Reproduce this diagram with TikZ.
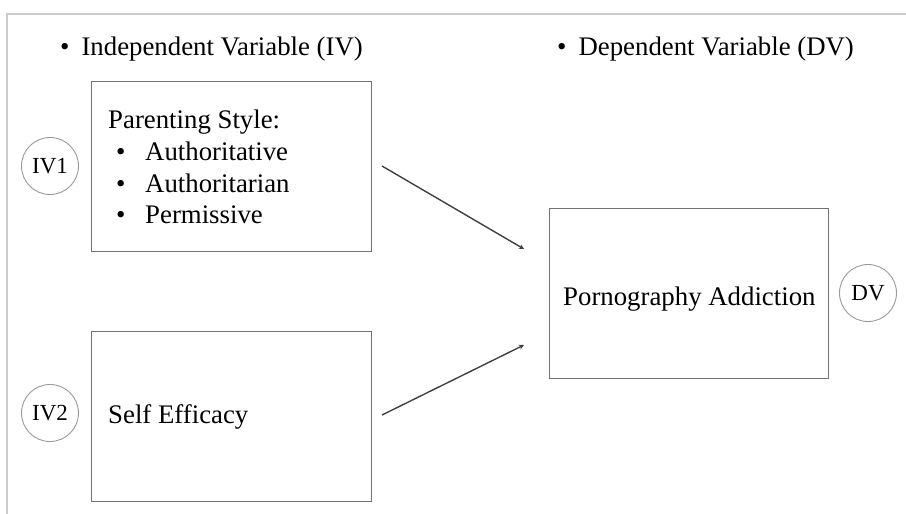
\documentclass[tikz,border=0pt]{standalone}
\usepackage{fontspec}
\setmainfont{Liberation Serif}
\usetikzlibrary{arrows.meta}
\begin{document}
\begin{tikzpicture}[x=1pt,y=-1pt,
                    vbox/.style = {draw=black!55,
                                   line width=1.1pt,
                                   anchor=north west,
                                   minimum width=280pt,
                                   minimum height=170pt,
                                   inner sep=0pt},
                    vnode/.style = {shape = circle,
                                    draw=black!40,
                                    line width=0.9pt,
                                    minimum size=57pt,
                                    inner sep=0pt,
                                    font=\fontsize{23}{27}\selectfont},
                    vtext/.style = {anchor=base west,
                                    inner sep=0pt,
                                    font=\fontsize{26.8}{32}\selectfont},
                    vlink/.style = {draw=black!75,
                                    line width=1.4pt,
                                    -{Stealth[length=5pt,width=5pt]}}]
		\useasboundingbox (0,0) rectangle (906,514);
		\draw[black!20, line width=1.2pt] (7,514) -- (7,14) -- (906,14);
		% headings
		\node[vtext] (ivhead) at (60,56) {•\hspace{12pt}Independent Variable (IV)};
		\node[vtext] (dvhead) at (557,56) {•\hspace{12pt}Dependent Variable (DV)};
		% boxes
		\node[vbox] (style) at (91,81) {};
		\node[vbox] (efficacy) at (91,331) {};
		\node[vbox, minimum width=279pt] (addiction) at (549,208) {};
		\node[vtext] (stylettl) at (108,128) {Parenting Style:};
		\node[vtext] (b1) at (116,160) {•};
		\node[vtext] (b2) at (116,192) {•};
		\node[vtext] (b3) at (116,223) {•};
		\node[vtext] (s1) at (145,160) {Authoritative};
		\node[vtext] (s2) at (145,192) {Authoritarian};
		\node[vtext] (s3) at (145,223) {Permissive};
		\node[vtext] (efficttl) at (108,423) {Self Efficacy};
		\node[vtext] (addicttl) at (563,305) {Pornography Addiction};
		% labels
		\node[vnode] (iv1) at (50,166) {IV1};
		\node[vnode] (iv2) at (50,413) {IV2};
		\node[vnode] (dv) at (868,293) {DV};
		% arrows
		\coordinate (a1) at (382,166);
		\coordinate (a2) at (524,249);
		\coordinate (a3) at (382,415);
		\coordinate (a4) at (524,345);
		\draw[vlink] (a1) -- (a2);
		\draw[vlink] (a3) -- (a4);
	\end{tikzpicture}
\end{document}
